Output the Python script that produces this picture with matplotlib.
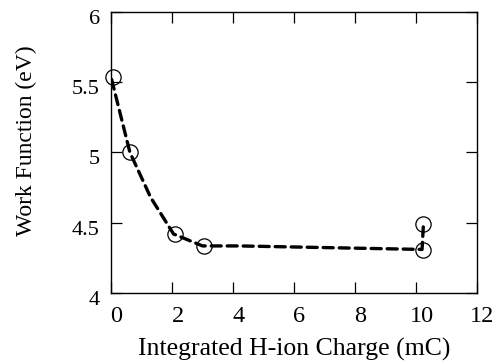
import matplotlib

matplotlib.use('Agg')
import matplotlib.pyplot as plt
import matplotlib.transforms as mtransforms

# measured points (open circles)
charge = [0.07, 0.62, 2.1, 3.05, 10.24, 10.24]
work_fn = [5.535, 5.0, 4.42, 4.335, 4.49, 4.305]

# dashed guide line through the data
line_x = [0.02, 0.62, 1.3, 2.05, 3.0, 4.2, 10.2, 10.24]
line_y = [5.52, 5.0, 4.68, 4.42, 4.335, 4.335, 4.31, 4.47]

plt.rcParams['font.family'] = ['Liberation Serif', 'DejaVu Serif']

fig = plt.figure(figsize=(5.01, 3.62), dpi=100)
ax = fig.add_axes([0.2216, 0.1906, 0.7304, 0.7764])

ax.plot(line_x, line_y, color='black', lw=2.4, dashes=(3.0, 1.8),
        dash_capstyle='round', zorder=2)
ax.plot(charge, work_fn, linestyle='none', marker='o', markersize=11,
        markerfacecolor='none', markeredgecolor='black', markeredgewidth=0.9,
        clip_on=False, zorder=3)

ax.set_xlim(0, 12)
ax.set_ylim(4, 6)
ax.set_xticks([0, 2, 4, 6, 8, 10, 12])
ax.set_yticks([4, 4.5, 5, 5.5, 6])
ax.set_yticklabels(['4', '4.5', '5', '5.5', '6'])

ax.tick_params(direction='in', top=True, right=True, length=8, width=0.9)
ax.tick_params(axis='x', pad=9, labelsize=17.5)
ax.tick_params(axis='y', pad=8, labelsize=16)
for s in ax.spines.values():
    s.set_linewidth(1.0)

# labels in the original sit a bit right / below their ticks
shift_x = mtransforms.ScaledTranslation(4 / 72, 0, fig.dpi_scale_trans)
shift_y = mtransforms.ScaledTranslation(0, -3.5 / 72, fig.dpi_scale_trans)
for lab in ax.get_xticklabels():
    lab.set_transform(lab.get_transform() + shift_x)
for lab in ax.get_yticklabels():
    lab.set_transform(lab.get_transform() + shift_y)

ax.set_xlabel('Integrated H-ion Charge (mC)', fontsize=18.5)
ax.xaxis.set_label_coords(0.5, -0.16)
ax.set_ylabel('Work Function (eV)', fontsize=17, va='center')
ax.yaxis.set_label_coords(-0.232, 0.541)

fig.savefig('out.png', dpi=100)
